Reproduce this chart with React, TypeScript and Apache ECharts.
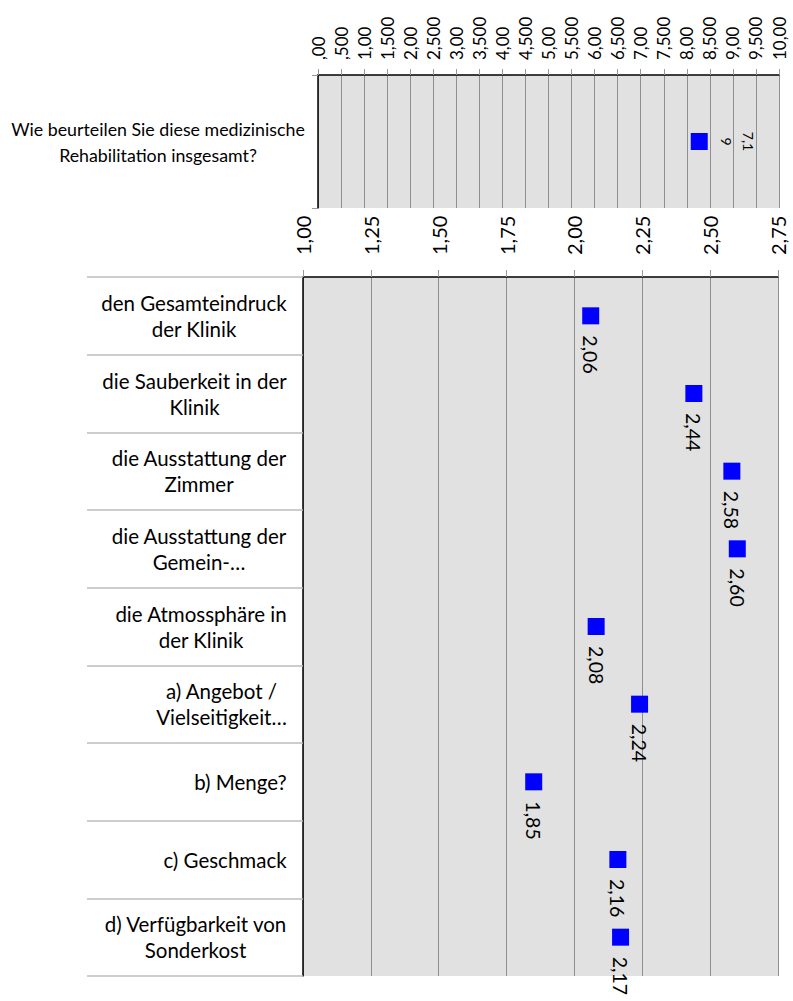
import React, { useEffect, useRef } from "react";
import * as echarts from "echarts";

// ---- data ----
const topCategories = ["Wie beurteilen Sie diese medizinische\nRehabilitation insgesamt?"];
const topValues = [8.27];
const topValueLabels = ["7,19"];
const topTickLabels = [
  ",00", ",500", "1,00", "1,500", "2,00", "2,500", "3,00", "3,500", "4,00", "4,500",
  "5,00", "5,500", "6,00", "6,500", "7,00", "7,500", "8,00", "8,500", "9,00", "9,500", "10,00",
];

const categories = [
  "den Gesamteindruck\nder Klinik",
  "die Sauberkeit in der\nKlinik",
  "die Ausstattung der\nZimmer",
  "die Ausstattung der\nGemein-…",
  "die Atmossphäre in\nder Klinik",
  "a) Angebot /\nVielseitigkeit…",
  "b) Menge?",
  "c) Geschmack",
  "d) Verfügbarkeit von\nSonderkost",
];
const values = [2.06, 2.44, 2.58, 2.6, 2.08, 2.24, 1.85, 2.16, 2.17];
const tickLabels = ["1,00", "1,25", "1,50", "1,75", "2,00", "2,25", "2,50", "2,75"];

const TOP_MIN = 0;
const TOP_MAX = 10;
const TOP_STEP = 0.5;
const LOW_MIN = 1;
const LOW_MAX = 2.75;
const LOW_STEP = 0.25;

const FONT = "Lato";
const CAT_SIZE = 20.5;
const TOPCAT_SIZE = 17.8;
const BLUE = "#0000FF";
const BG = "#E1E1E1";
const GRID_LINE = "#8E8E8E";

function measure(text: string, size: number): number {
  const c = document.createElement("canvas");
  const ctx = c.getContext("2d");
  if (!ctx) return text.length * size * 0.5;
  ctx.font = `${size}px ${FONT}`;
  return ctx.measureText(text).width;
}

function buildRich(labels: string[], prefix: string, size: number, lh: number) {
  const rich: Record<string, any> = {};
  labels.forEach((lab, i) => {
    const lines = lab.split("\n");
    const w = Math.ceil(Math.max(...lines.map((l) => measure(l, size)))) + 2;
    rich[`${prefix}${i}`] = {
      width: w,
      align: "center",
      fontSize: size,
      fontFamily: FONT,
      lineHeight: lh,
      color: "#000",
    };
  });
  return rich;
}

function richFormatter(prefix: string, labels: string[]) {
  return (_v: string, idx: number) => {
    const lab = labels[idx] ?? _v;
    return lab
      .split("\n")
      .map((l) => `{${prefix}${idx}|${l}}`)
      .join("\n");
  };
}

export default function App() {
  const ref = useRef<HTMLDivElement>(null);

  useEffect(() => {
    if (!ref.current) return;
    const chart = echarts.init(ref.current, undefined, { renderer: "svg" });

    const topRich = buildRich(topCategories, "t", TOPCAT_SIZE, 26);
    const lowRich = buildRich(categories, "c", CAT_SIZE, 26);

    chart.setOption({
      animation: false,
      backgroundColor: "#fff",
      textStyle: { fontFamily: FONT, color: "#000" },
      grid: [
        { left: 318, top: 75, width: 461, height: 133, show: true, backgroundColor: BG, borderWidth: 0, containLabel: false, outerBoundsMode: "none" },
        { left: 303, top: 277, width: 475, height: 699, show: true, backgroundColor: BG, borderWidth: 0, containLabel: false, outerBoundsMode: "none" },
      ],
      xAxis: [
        {
          gridIndex: 0,
          type: "value",
          position: "top",
          min: TOP_MIN,
          max: TOP_MAX,
          interval: TOP_STEP,
          axisLine: { show: true, lineStyle: { color: "#000", width: 1.5 } },
          axisTick: { show: true, length: 6, lineStyle: { color: "#999" } },
          splitLine: { show: true, lineStyle: { color: GRID_LINE, width: 1 } },
          axisLabel: {
            rotate: -90,
            margin: 15,
            fontSize: 17,
            fontFamily: FONT,
            color: "#000",
            hideOverlap: false,
            formatter: (v: number) => topTickLabels[Math.round((v - TOP_MIN) / TOP_STEP)] ?? "",
          },
        },
        {
          gridIndex: 1,
          type: "value",
          position: "top",
          min: LOW_MIN,
          max: LOW_MAX,
          interval: LOW_STEP,
          axisLine: { show: true, lineStyle: { color: "#000", width: 1.5 } },
          axisTick: { show: true, length: 7, lineStyle: { color: "#999" } },
          splitLine: { show: true, lineStyle: { color: GRID_LINE, width: 1 } },
          axisLabel: {
            rotate: -90,
            margin: 22,
            fontSize: 20,
            fontFamily: FONT,
            color: "#000",
            formatter: (v: number) => tickLabels[Math.round((v - LOW_MIN) / LOW_STEP)] ?? "",
          },
        },
      ],
      yAxis: [
        {
          gridIndex: 0,
          type: "category",
          data: topCategories,
          inverse: true,
          axisLine: { show: true, lineStyle: { color: "#000", width: 1.5 } },
          axisTick: { show: true, length: 6, interval: 0, lineStyle: { color: "#999" } },
          splitLine: { show: false },
          axisLabel: {
            interval: 0,
            margin: 12,
            formatter: richFormatter("t", topCategories),
            rich: topRich,
          },
        },
        {
          gridIndex: 1,
          type: "category",
          data: categories,
          inverse: true,
          axisLine: { show: true, lineStyle: { color: "#000", width: 1.5 } },
          axisTick: { show: true, length: 216, interval: 0, lineStyle: { color: "#BDBDBD", width: 1.5 } },
          splitLine: { show: false },
          axisLabel: {
            interval: 0,
            margin: 15,
            formatter: richFormatter("c", categories),
            rich: lowRich,
          },
        },
      ],
      series: [
        {
          type: "scatter",
          xAxisIndex: 0,
          yAxisIndex: 0,
          symbol: "rect",
          symbolSize: 17,
          itemStyle: { color: BLUE, opacity: 1 },
          data: topValues.map((v, i) => [v, topCategories[i]]),
          label: {
            show: true,
            position: "right",
            distance: 8,
            rotate: -90,
            align: "center",
            verticalAlign: "bottom",
            fontSize: 14,
            lineHeight: 22,
            fontFamily: FONT,
            color: "#000",
            formatter: (p: any) => {
              const s = topValueLabels[p.dataIndex] ?? "";
              return s.length > 3 ? s.slice(0, 3) + "\n" + s.slice(3) : s;
            },
          },
        },
        {
          type: "scatter",
          xAxisIndex: 1,
          yAxisIndex: 1,
          symbol: "rect",
          symbolSize: 17,
          itemStyle: { color: BLUE, opacity: 1 },
          data: values.map((v, i) => [v, categories[i]]),
          label: {
            show: true,
            position: "bottom",
            distance: 11,
            rotate: -90,
            align: "left",
            verticalAlign: "middle",
            fontSize: 19.5,
            fontFamily: FONT,
            color: "#000",
            formatter: (p: any) => Number(p.value[0]).toFixed(2).replace(".", ","),
          },
        },
      ],
    });

    return () => chart.dispose();
  }, []);

  return (
    <div
      ref={ref}
      style={{ position: "absolute", left: 0, top: 0, width: 793, height: 1001 }}
    />
  );
}
